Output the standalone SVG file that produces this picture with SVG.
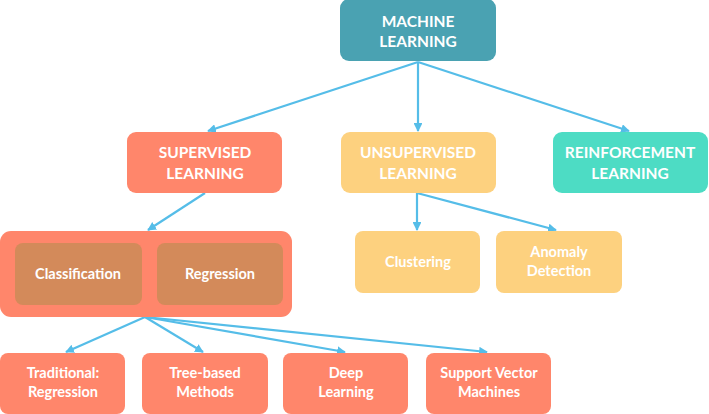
<svg xmlns="http://www.w3.org/2000/svg" width="709" height="414" viewBox="0 0 709 414">
<defs>
<style>
.t{font-family:Lato,"Open Sans","Liberation Sans",sans-serif;font-weight:700;fill:#fff;text-anchor:middle}
.h{font-size:15.5px}
.s{font-size:14.5px}
.c{stroke:#55BDE8;stroke-width:2.2;fill:none;marker-end:url(#ah)}
</style>
<marker id="ah" viewBox="0 0 10 10" refX="9" refY="5" markerWidth="4" markerHeight="4" orient="auto" markerUnits="strokeWidth">
<path d="M0,0 L10,5 L0,10 z" fill="#55BDE8"/>
</marker>
</defs>
<rect width="709" height="414" fill="#fff"/>
<g id="connectors">
<line class="c" x1="418" y1="62" x2="208" y2="131"/>
<line class="c" x1="418" y1="62" x2="418" y2="131"/>
<line class="c" x1="418" y1="62" x2="629" y2="131"/>
<line class="c" x1="205" y1="193" x2="148" y2="230"/>
<line class="c" x1="417" y1="193" x2="417" y2="230"/>
<line class="c" x1="417" y1="193" x2="556" y2="230"/>
<line class="c" x1="145" y1="317" x2="66" y2="352"/>
<line class="c" x1="145" y1="317" x2="203" y2="352"/>
<line class="c" x1="145" y1="317" x2="345" y2="352"/>
<line class="c" x1="145" y1="317" x2="487" y2="352"/>
</g>
<g id="machine-learning">
<rect x="340" y="-1" width="156" height="62" rx="9" fill="#4AA2B2"/>
<text class="t h" x="418" y="27">MACHINE</text>
<text class="t h" x="418" y="47">LEARNING</text>
</g>
<g id="supervised">
<rect x="127" y="132" width="155" height="61" rx="9" fill="#FF866B"/>
<text class="t h" x="205" y="158">SUPERVISED</text>
<text class="t h" x="205" y="179">LEARNING</text>
</g>
<g id="unsupervised">
<rect x="341" y="132" width="155" height="61" rx="9" fill="#FDD17F"/>
<text class="t h" x="418" y="158">UNSUPERVISED</text>
<text class="t h" x="418" y="179">LEARNING</text>
</g>
<g id="reinforcement">
<rect x="553" y="132" width="155" height="61" rx="9" fill="#4DDCC4"/>
<text class="t h" x="630" y="158">REINFORCEMENT</text>
<text class="t h" x="630" y="179">LEARNING</text>
</g>
<g id="supervised-types">
<rect x="0" y="231" width="292" height="86" rx="11" fill="#FF866B"/>
</g>
<g id="classification">
<rect x="15" y="243" width="127" height="62" rx="8" fill="#D38A5A"/>
<text class="t s" x="78" y="279">Classification</text>
</g>
<g id="regression">
<rect x="157" y="243" width="126" height="62" rx="8" fill="#D38A5A"/>
<text class="t s" x="220" y="279">Regression</text>
</g>
<g id="clustering">
<rect x="355" y="231" width="125" height="62" rx="8" fill="#FDD17F"/>
<text class="t s" x="418" y="267">Clustering</text>
</g>
<g id="anomaly">
<rect x="496" y="231" width="126" height="62" rx="8" fill="#FDD17F"/>
<text class="t s" x="559" y="257">Anomaly</text>
<text class="t s" x="559" y="276">Detection</text>
</g>
<g id="traditional">
<rect x="0" y="353" width="125" height="61" rx="8" fill="#FF866B"/>
<text class="t s" x="63" y="378">Traditional:</text>
<text class="t s" x="63" y="397">Regression</text>
</g>
<g id="tree-based">
<rect x="142" y="353" width="126" height="61" rx="8" fill="#FF866B"/>
<text class="t s" x="205" y="378">Tree-based</text>
<text class="t s" x="205" y="397">Methods</text>
</g>
<g id="deep">
<rect x="283" y="353" width="125" height="61" rx="8" fill="#FF866B"/>
<text class="t s" x="346" y="378">Deep</text>
<text class="t s" x="346" y="397">Learning</text>
</g>
<g id="svm">
<rect x="426" y="353" width="125" height="61" rx="8" fill="#FF866B"/>
<text class="t s" x="489" y="378">Support Vector</text>
<text class="t s" x="489" y="397">Machines</text>
</g>
</svg>
